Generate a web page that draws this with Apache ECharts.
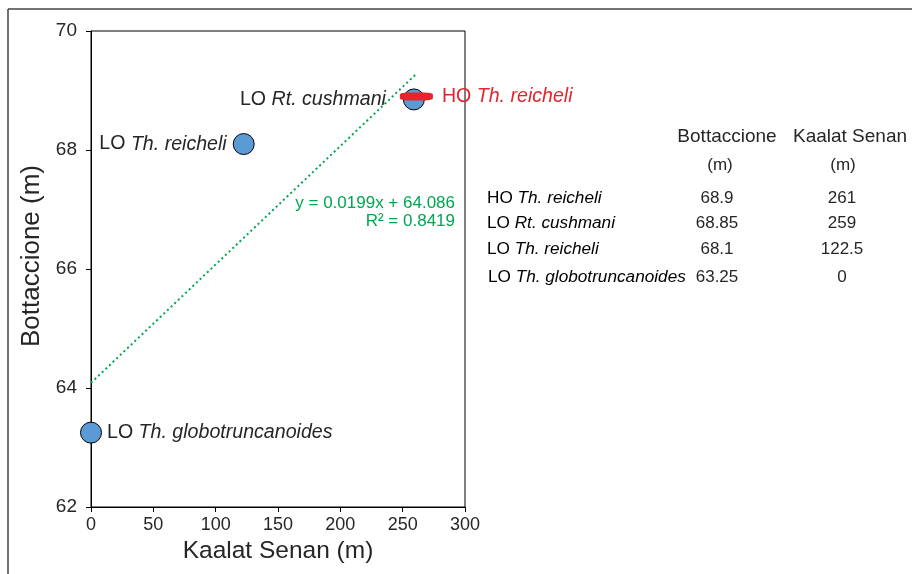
<!DOCTYPE html>
<html>
<head>
<meta charset="utf-8">
<script src="https://cdn.jsdelivr.net/npm/echarts@6/dist/echarts.min.js"></script>
<style>html,body{margin:0;padding:0;background:#fff;}#c{width:913px;height:574px;}</style>
</head>
<body>
<div id="c"></div>
<script>
// Data
const eventPrefix = ['HO', 'LO', 'LO', 'LO'];
const eventTaxon = ['Th. reicheli', 'Rt. cushmani', 'Th. reicheli', 'Th. globotruncanoides'];
const bottaccione = [68.9, 68.85, 68.1, 63.25];
const kaalatSenan = [261, 259, 122.5, 0];
const bottLabels = ['68.9', '68.85', '68.1', '63.25'];
const kaalatLabels = ['261', '259', '122.5', '0'];
const trendCoef = { slope: 0.0199, intercept: 64.086, r2: 0.8419 };
const trendX = [0, 261];
const xTicks = [0, 50, 100, 150, 200, 250, 300];
const yTicks = [62, 64, 66, 68, 70];

const txt = '#262626';
const green = '#00A650';
const red = '#E3262C';
const font = 'Liberation Sans, Arial, sans-serif';
const rich = (color, size) => ({
  n: { fontFamily: font, fontSize: size, color: color },
  i: { fontFamily: font, fontSize: size, color: color, fontStyle: 'italic' }
});

// circle points (LO events)
const labelCfg = [null, { position: 'left', distance: 17 }, { position: 'left', distance: 6 }, { position: 'right', distance: 5 }];
const circleData = [];
for (let k = 1; k < 4; k++) {
  circleData.push({
    value: [kaalatSenan[k], bottaccione[k]],
    label: {
      show: true,
      position: labelCfg[k].position,
      distance: labelCfg[k].distance,
      formatter: '{n|' + eventPrefix[k] + ' }{i|' + eventTaxon[k] + '}',
      rich: rich(txt, 19.6)
    }
  });
}

const trendData = trendX.map(x => [x, trendCoef.intercept + trendCoef.slope * x]);

// frame, axis title, trend equation and table graphics
const graphic = [
  { type: 'line', shape: { x1: 8, y1: 9, x2: 912, y2: 9 }, style: { stroke: '#444', lineWidth: 1.5 } },
  { type: 'line', shape: { x1: 8, y1: 9, x2: 8, y2: 574 }, style: { stroke: '#444', lineWidth: 1.5 } },
  { type: 'text', x: 32, y: 256, rotation: Math.PI / 2, style: { text: 'Bottaccione (m)', font: '26px ' + font, fill: txt, textAlign: 'center', textVerticalAlign: 'middle' } },
  { type: 'text', x: 727, y: 137, style: { text: 'Bottaccione', font: '19px ' + font, fill: txt, textAlign: 'center', textVerticalAlign: 'middle' } },
  { type: 'text', x: 850, y: 137, style: { text: 'Kaalat Senan', font: '19px ' + font, fill: txt, textAlign: 'center', textVerticalAlign: 'middle' } },
  { type: 'text', x: 720, y: 165, style: { text: '(m)', font: '17px ' + font, fill: txt, textAlign: 'center', textVerticalAlign: 'middle' } },
  { type: 'text', x: 843, y: 165, style: { text: '(m)', font: '17px ' + font, fill: txt, textAlign: 'center', textVerticalAlign: 'middle' } },
  { type: 'text', x: 455, y: 203, style: { text: 'y = ' + trendCoef.slope + 'x + ' + trendCoef.intercept, font: '17px ' + font, fill: green, textAlign: 'right', textVerticalAlign: 'middle' } },
  { type: 'text', x: 455, y: 221, style: { text: 'R² = ' + trendCoef.r2, font: '17px ' + font, fill: green, textAlign: 'right', textVerticalAlign: 'middle' } }
];
const rowY = [198, 223, 249, 277];
for (let k = 0; k < 4; k++) {
  graphic.push({ type: 'text', x: 487 + (k === 3 ? 1 : 0), y: rowY[k], style: {
    text: '{n|' + eventPrefix[k] + ' }{i|' + eventTaxon[k] + '}', rich: rich(txt, 17.2),
    textAlign: 'left', textVerticalAlign: 'middle' } });
  graphic.push({ type: 'text', x: 717, y: rowY[k], style: { text: bottLabels[k], font: '17px ' + font, fill: txt, textAlign: 'center', textVerticalAlign: 'middle' } });
  graphic.push({ type: 'text', x: 842, y: rowY[k], style: { text: kaalatLabels[k], font: '17px ' + font, fill: txt, textAlign: 'center', textVerticalAlign: 'middle' } });
}

const chart = echarts.init(document.getElementById('c'), null, { renderer: 'canvas' });
chart.setOption({
  animation: false,
  backgroundColor: '#fff',
  grid: { left: 91, top: 31, right: 448, bottom: 67, containLabel: false, outerBoundsMode: 'none',
    show: true, borderColor: '#000', borderWidth: 1, backgroundColor: 'transparent' },
  xAxis: {
    type: 'value', min: xTicks[0], max: xTicks[xTicks.length - 1], interval: 50,
    name: 'Kaalat Senan (m)', nameLocation: 'middle', nameGap: 31,
    nameTextStyle: { fontFamily: font, fontSize: 24.5, color: txt },
    axisLine: { show: true, onZero: false, lineStyle: { color: '#000', width: 1 } },
    axisTick: { show: true, length: 5, lineStyle: { color: '#000' } },
    axisLabel: { fontFamily: font, fontSize: 18, color: txt, margin: 9 },
    splitLine: { show: false }
  },
  yAxis: {
    type: 'value', min: yTicks[0], max: yTicks[yTicks.length - 1], interval: 2,
    axisLine: { show: true, onZero: false, lineStyle: { color: '#000', width: 1 } },
    axisTick: { show: true, length: 5, lineStyle: { color: '#000' } },
    axisLabel: { fontFamily: font, fontSize: 19, color: txt, margin: 14 },
    splitLine: { show: false }
  },
  graphic: graphic,
  series: [
    {
      type: 'line', data: trendData, symbol: 'none', z: 1, smooth: false,
      lineStyle: { color: green, width: 2, type: [2, 3] }
    },
    {
      type: 'scatter', data: circleData, symbol: 'circle', symbolSize: 21, z: 3,
      itemStyle: { color: '#5B9BD5', borderColor: '#000', borderWidth: 1, opacity: 1 }
    },
    {
      type: 'scatter', z: 4,
      data: [{
        value: [kaalatSenan[0], bottaccione[0]],
        label: { show: true, position: 'right', distance: 9,
          formatter: '{n|' + eventPrefix[0] + ' }{i|' + eventTaxon[0] + '}', rich: rich(red, 19.6) }
      }],
      symbol: 'roundRect', symbolSize: [33, 8],
      itemStyle: { color: red, opacity: 1 }
    }
  ]
});
</script>
</body>
</html>
